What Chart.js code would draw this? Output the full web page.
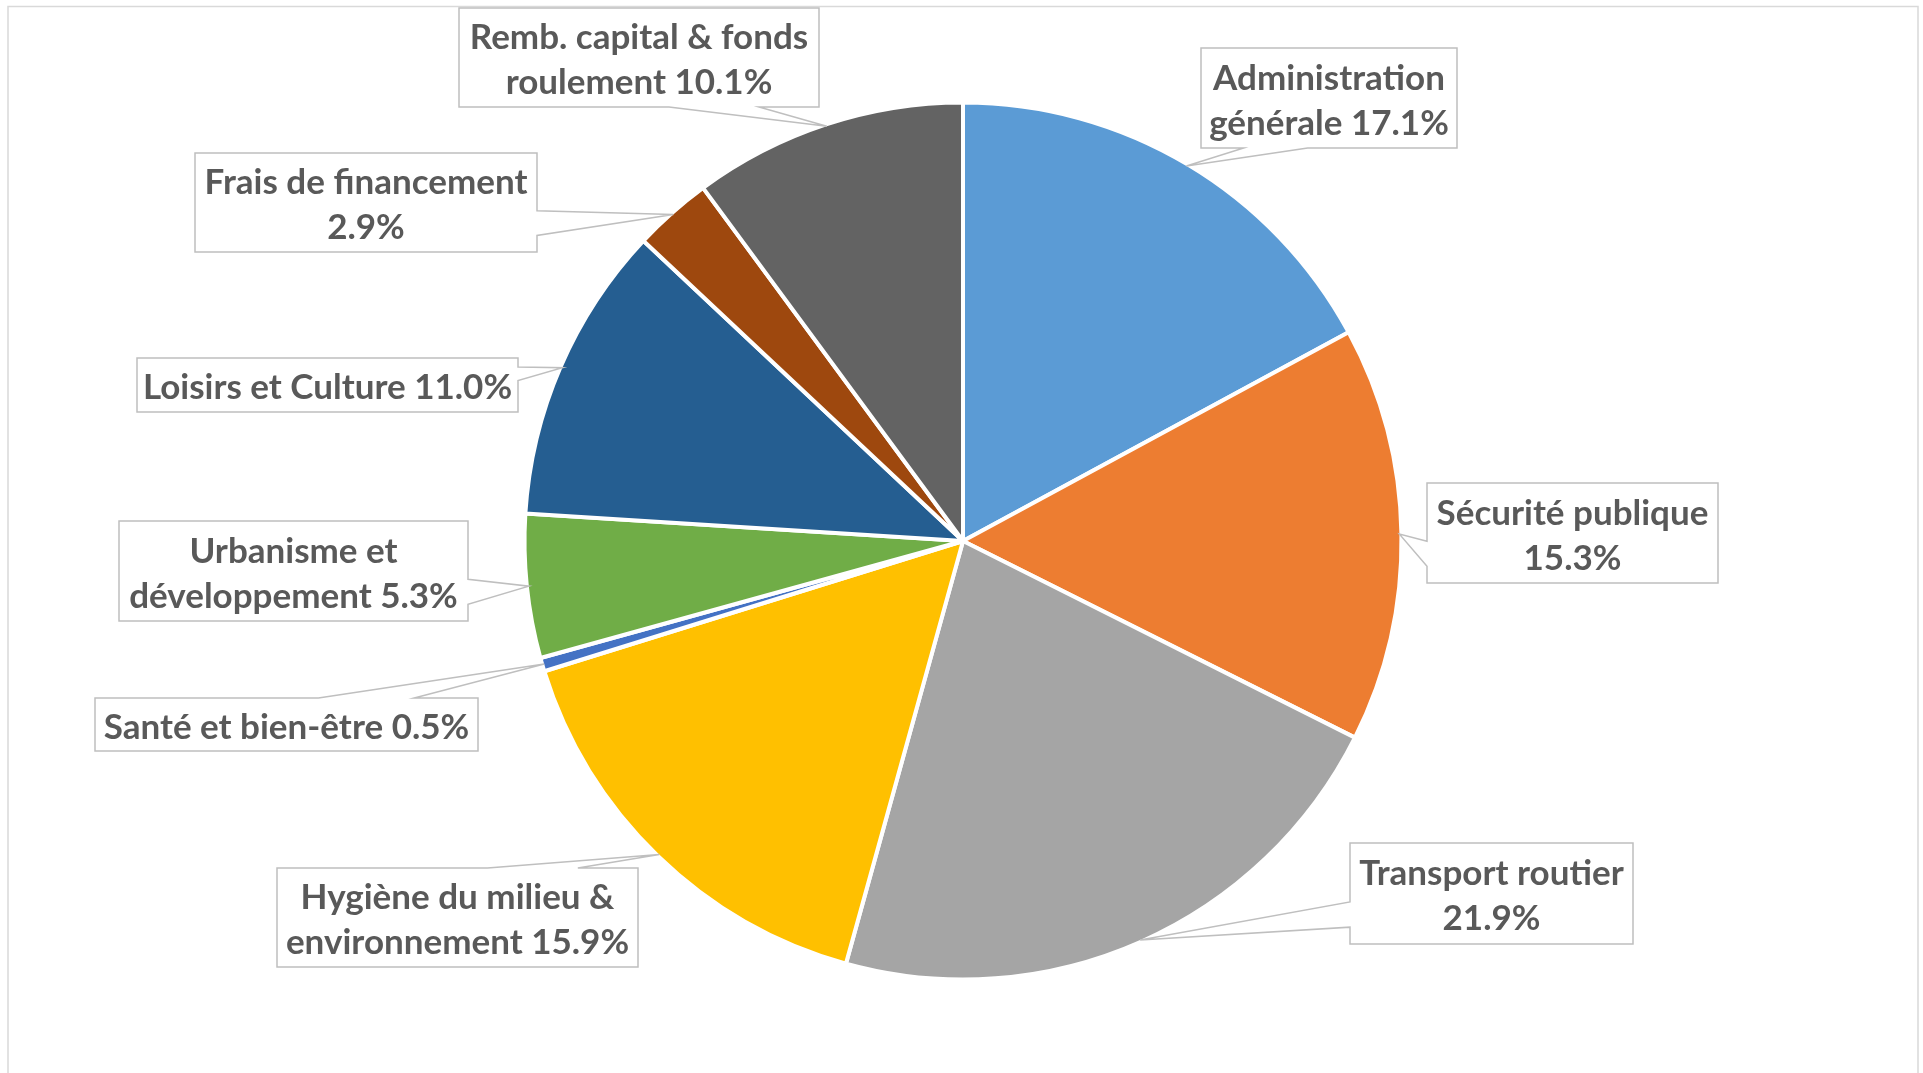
<!DOCTYPE html>
<html>
<head>
<meta charset="utf-8">
<title>Répartition des dépenses</title>
<script src="https://cdn.jsdelivr.net/npm/chart.js@4.4.1/dist/chart.umd.min.js"></script>
<style>
  html, body { margin: 0; padding: 0; background: #ffffff; }
  #chart { display: block; }
</style>
</head>
<body>
<canvas id="chart" width="1923" height="1073"></canvas>
<script>
// Data (percent of total)
const categories = [
  'Administration générale',
  'Sécurité publique',
  'Transport routier',
  'Hygiène du milieu & environnement',
  'Santé et bien-être',
  'Urbanisme et développement',
  'Loisirs et Culture',
  'Frais de financement',
  'Remb. capital & fonds roulement'
];
const values = [17.1, 15.3, 21.9, 15.9, 0.5, 5.3, 11.0, 2.9, 10.1];

// How each label is broken into lines, {v} is where the value goes
const labelLines = [
  ['Administration', 'générale {v}'],
  ['Sécurité publique', '{v}'],
  ['Transport routier', '{v}'],
  ['Hygiène du milieu &', 'environnement {v}'],
  ['Santé et bien-être {v}'],
  ['Urbanisme et', 'développement {v}'],
  ['Loisirs et Culture {v}'],
  ['Frais de financement', '{v}'],
  ['Remb. capital & fonds', 'roulement {v}']
];

const sliceColors = ['#5B9BD5', '#ED7D31', '#A5A5A5', '#FFC000', '#4472C4',
                     '#70AD47', '#255E91', '#9E480E', '#636363'];

// Callout boxes: left, top, width, height (layout only)
const calloutBoxes = [
  [1201, 48, 256, 100],
  [1427, 483, 291, 100],
  [1350, 843, 283, 101],
  [277, 868, 361, 99],
  [95, 698, 383, 53],
  [119, 521, 349, 100],
  [137, 358, 381, 54],
  [195, 153, 342, 99],
  [459, 8, 360, 99]
];

const BORDER = 4;
const LINE_H = 45;

// Excel style wedge rectangle callout
function drawCallout(ctx, box, ax, ay, lines) {
  const [l, t, w, h] = box;
  const r = l + w, b = t + h;
  const cx = l + w / 2, cy = t + h / 2;
  const dx = ax - cx, dy = ay - cy;
  const dq = dx * h / w;

  ctx.beginPath();
  if (Math.abs(dy) > Math.abs(dq)) {
    const x1 = l + w * (dx > 0 ? 7 : 2) / 12;
    const x2 = l + w * (dx > 0 ? 10 : 5) / 12;
    if (dy < 0) {
      ctx.moveTo(l, t); ctx.lineTo(x1, t); ctx.lineTo(ax, ay); ctx.lineTo(x2, t);
      ctx.lineTo(r, t); ctx.lineTo(r, b); ctx.lineTo(l, b);
    } else {
      ctx.moveTo(l, t); ctx.lineTo(r, t); ctx.lineTo(r, b); ctx.lineTo(x2, b);
      ctx.lineTo(ax, ay); ctx.lineTo(x1, b); ctx.lineTo(l, b);
    }
  } else {
    const y1 = t + h * (dy > 0 ? 7 : 2) / 12;
    const y2 = t + h * (dy > 0 ? 10 : 5) / 12;
    if (dx > 0) {
      ctx.moveTo(l, t); ctx.lineTo(r, t); ctx.lineTo(r, y1); ctx.lineTo(ax, ay);
      ctx.lineTo(r, y2); ctx.lineTo(r, b); ctx.lineTo(l, b);
    } else {
      ctx.moveTo(l, t); ctx.lineTo(r, t); ctx.lineTo(r, b); ctx.lineTo(l, b);
      ctx.lineTo(l, y2); ctx.lineTo(ax, ay); ctx.lineTo(l, y1);
    }
  }
  ctx.closePath();
  ctx.fillStyle = '#ffffff';
  ctx.fill();
  ctx.lineWidth = 1.5;
  ctx.strokeStyle = '#BFBFBF';
  ctx.stroke();

  ctx.fillStyle = '#595959';
  ctx.font = 'bold 35px Lato';
  ctx.textAlign = 'center';
  ctx.textBaseline = 'alphabetic';
  const first = cy - lines.length * LINE_H / 2 + 36.5;
  lines.forEach((txt, i) => ctx.fillText(txt, cx, first + i * LINE_H));
}

const calloutPlugin = {
  id: 'callouts',
  beforeDraw(chart) {
    const ctx = chart.ctx;
    ctx.save();
    ctx.fillStyle = '#ffffff';
    ctx.fillRect(0, 0, chart.width, chart.height);
    // outer frame of the chart object
    ctx.strokeStyle = '#D9D9D9';
    ctx.lineWidth = 1.5;
    ctx.strokeRect(8, 6.5, 1910, 1200);
    ctx.restore();
  },
  afterDatasetsDraw(chart) {
    const ctx = chart.ctx;
    const arcs = chart.getDatasetMeta(0).data;
    ctx.save();
    arcs.forEach((arc, i) => {
      const p = arc.getProps(['x', 'y', 'startAngle', 'endAngle', 'outerRadius'], true);
      const mid = (p.startAngle + p.endAngle) / 2;
      const rad = p.outerRadius - BORDER / 2;
      const ax = p.x + Math.cos(mid) * rad;
      const ay = p.y + Math.sin(mid) * rad;
      const txt = labelLines[i].map(s => s.replace('{v}', values[i].toFixed(1) + '%'));
      drawCallout(ctx, calloutBoxes[i], ax, ay, txt);
    });
    ctx.restore();
  }
};

new Chart(document.getElementById('chart'), {
  type: 'pie',
  data: {
    labels: categories,
    datasets: [{
      data: values,
      backgroundColor: sliceColors,
      borderColor: '#ffffff',
      borderWidth: BORDER
    }]
  },
  options: {
    responsive: false,
    devicePixelRatio: 1,
    animation: false,
    layout: { padding: { left: 522.5, right: 519.5, top: 100.5, bottom: 91.5 } },
    plugins: {
      legend: { display: false },
      tooltip: { enabled: false }
    }
  },
  plugins: [calloutPlugin]
});
</script>
</body>
</html>
